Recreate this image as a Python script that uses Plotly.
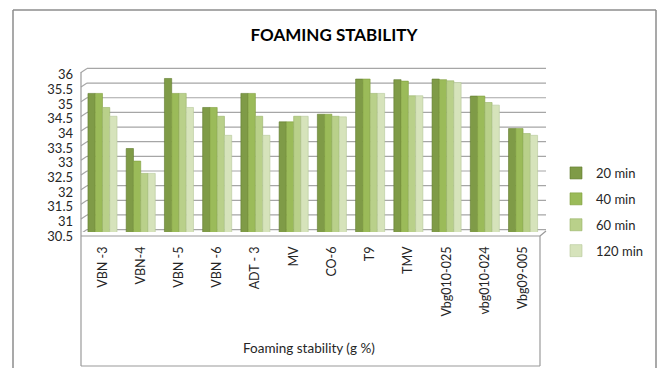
import plotly.graph_objects as go

categories = ["VBN -3", "VBN-4", "VBN -5", "VBN -6", "ADT - 3", "MV", "CO-6", "T9", "TMV",
              "Vbg010-025", "vbg010-024", "Vbg09-005"]
min20 = [35.23, 33.35, 35.74, 34.75, 35.23, 34.26, 34.52, 35.72, 35.70, 35.72, 35.14, 34.03]
min40 = [35.23, 32.92, 35.23, 34.75, 35.23, 34.26, 34.52, 35.72, 35.65, 35.70, 35.14, 34.03]
min60 = [34.75, 32.50, 35.23, 34.45, 34.45, 34.45, 34.45, 35.23, 35.15, 35.66, 34.92, 33.86]
min120 = [34.45, 32.50, 34.75, 33.80, 33.80, 34.45, 34.43, 35.23, 35.15, 35.60, 34.83, 33.80]
series_names = ["20 min", "40 min", "60 min", "120 min"]
y_ticks = [30.5, 31, 31.5, 32, 32.5, 33, 33.5, 34, 34.5, 35, 35.5, 36]

colors = ["#7f9b47", "#9bbb59", "#b9d08a", "#d6e3bb"]
edges = ["#5f7a2e", "#7f9d3e", "#97b267", "#b5c799"]

W, H = 657, 368
ML, MR, MT, MB = 81, 111, 65, 136
PW, PH = W - ML - MR, H - MT - MB
Y0, Y1 = 30.5, 36.2
X0, X1 = -0.562, 11.60
FONT = "Lato"

def px_x(p):
    return (p - ML) / PW

def px_y(p):
    return (H - MB - p) / PH

upp = (Y1 - Y0) / PH  # units per pixel

fig = go.Figure()
for name, vals, c, e in zip(series_names, [min20, min40, min60, min120], colors, edges):
    fig.add_trace(go.Bar(x=categories, y=vals, name=name, legendgroup=name,
                         marker=dict(color=c, line=dict(color=e, width=0.6))))

shapes = []
gc = "#a6a6a6"
for v in y_ticks:
    yb = v + 2.4 * upp
    shapes.append(dict(type="line", xref="paper", yref="y", x0=px_x(87), x1=px_x(546),
                       y0=yb, y1=yb, line=dict(color=gc, width=1.2), layer="below"))
    shapes.append(dict(type="line", xref="paper", yref="y", x0=px_x(81), x1=px_x(87),
                       y0=yb - 4 * upp, y1=yb, line=dict(color=gc, width=1.2), layer="below"))
lc = "#9a9a9a"
def pline(x0, y0, x1, y1, col=lc, w=1.2):
    shapes.append(dict(type="line", xref="paper", yref="paper", x0=px_x(x0), x1=px_x(x1),
                       y0=px_y(y0), y1=px_y(y1), line=dict(color=col, width=w)))
pline(81, 236, 540, 236)
pline(540, 236, 546, 231)
pline(81, 72, 81, 366)
pline(540, 236, 540, 366)
pline(81, 366, 540, 366)
pline(13, 10, 656, 10, "#8c8c8c", 1.5)
pline(13, 10, 13, 370, "#8c8c8c", 1.5)
pline(656, 10, 656, 370, "#8c8c8c", 1.5)

fig.update_layout(
    width=W, height=H,
    margin=dict(l=ML, r=MR, t=MT, b=MB, autoexpand=False),
    paper_bgcolor="white", plot_bgcolor="rgba(0,0,0,0)",
    barmode="group", bargap=0.24, bargroupgap=0,
    font=dict(family=FONT, color="#262626"),
    title=dict(text="<b>FOAMING STABILITY</b>", x=334 / W, xanchor="center",
               y=1 - 35 / H, yanchor="middle", font=dict(size=17, color="black", family=FONT)),
    xaxis=dict(range=[X0, X1], showgrid=False, zeroline=False, showline=False, ticks="",
               tickangle=-90, tickfont=dict(size=12.5), ticklabelstandoff=11, automargin=False),
    yaxis=dict(range=[Y0, Y1], showgrid=False, zeroline=False, showline=False, ticks="",
               tickvals=y_ticks, ticktext=[f"{t:g}" for t in y_ticks],
               tickfont=dict(size=13), ticklabelstandoff=7, ticklabelshift=4, automargin=False),
    legend=dict(x=px_x(556), y=px_y(158), xanchor="left", yanchor="top",
                font=dict(size=13), tracegroupgap=6, bgcolor="rgba(0,0,0,0)",
                itemwidth=30),
    shapes=shapes,
    annotations=[dict(text="Foaming stability (g %)", xref="paper", yref="paper",
                      x=px_x(309), y=px_y(348), xanchor="center", yanchor="middle",
                      showarrow=False, font=dict(size=13.5))],
)

fig.write_html("out.html")
